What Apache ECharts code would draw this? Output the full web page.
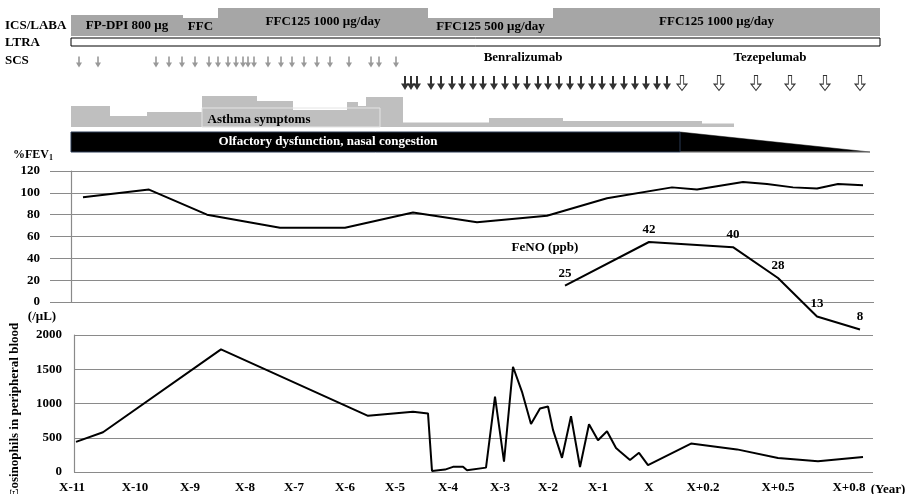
<!DOCTYPE html>
<html>
<head>
<meta charset="utf-8">
<script src="https://cdn.jsdelivr.net/npm/echarts@6/dist/echarts.min.js"></script>
<style>
  html, body { margin: 0; padding: 0; background: #fff; }
  #chart { width: 906px; height: 494px; }
</style>
</head>
<body>
<div id="chart"></div>
<script>
// Timeline positions (arbitrary units along the follow-up axis, 0 = start of record)
const yearTickPos = [1, 64, 119, 174, 223, 274, 324, 377, 429, 477, 527, 578, 632, 707, 778];
const yearTickLabels = ['X-11', 'X-10', 'X-9', 'X-8', 'X-7', 'X-6', 'X-5', 'X-4', 'X-3', 'X-2', 'X-1', 'X', 'X+0.2', 'X+0.5', 'X+0.8'];

// ICS/LABA regimen periods and dose level
const icsStart = [0, 112, 147, 357, 482];
const icsEnd = [112, 147, 357, 482, 809];
const icsLevel = [21, 18, 28, 18, 28];
const icsText = ['FP-DPI 800 \u03bcg', 'FFC', 'FFC125 1000 \u03bcg/day', 'FFC125 500 \u03bcg/day', 'FFC125 1000 \u03bcg/day'];

// LTRA continuous use
const ltraStart = [0];
const ltraEnd = [809];

// Systemic corticosteroid bursts
const scsTimes = [8, 27, 85, 98, 111, 124, 138, 147, 157, 165, 172, 177, 183, 197, 210, 221, 233, 246, 259, 278, 300, 308, 325];

// Biologic injections
const benraTimes = [334, 340, 346, 360, 370, 381, 391, 402, 412, 423, 434, 445, 456, 467, 477, 488, 499, 510, 521, 531, 542, 553, 564, 575, 586, 596];
const tezeTimes = [611, 648, 685, 719, 754, 789];

// Asthma symptom intensity by period
const symStart = [0, 39, 76, 131, 186, 222, 276, 287, 295, 332, 418, 492, 631];
const symEnd = [39, 76, 131, 186, 222, 276, 287, 295, 332, 418, 492, 631, 663];
const symLevel = [21, 11, 15, 31, 26, 17, 25, 21, 30, 4.5, 9, 6, 3.5];

// Olfactory dysfunction: persistent until olfFullEnd, then tapering off
const olfStart = 0;
const olfFullEnd = 609;
const olfTaperEnd = 799;

// %FEV1
const fevTimes = [12, 78, 136, 209, 274, 342, 406, 476, 536, 601, 626, 672, 696, 722, 746, 767, 792];
const fevValues = [96, 103, 80, 68, 68, 82, 73, 79, 95, 105, 103, 110, 108, 105, 104, 108, 107];

// FeNO (ppb)
const fenoTimes = [494, 578, 662, 707, 746, 789];
const fenoValues = [25, 42, 40, 28, 13, 8];

// Eosinophils in peripheral blood (/μL)
const eosTimes = [5, 32, 150, 297, 342, 357, 361, 374, 382, 392, 396, 415, 424, 433, 442, 451, 460, 469, 477, 482, 491, 500, 509, 518, 527, 536, 545, 549, 559, 568, 577, 620, 666, 707, 747, 792];
const eosValues = [440, 580, 1790, 820, 880, 855, 15, 35, 75, 75, 25, 64, 1100, 150, 1536, 1170, 700, 928, 955, 615, 207, 815, 73, 698, 464, 595, 350, 300, 176, 280, 100, 415, 330, 205, 157, 219];

// ---- layout ----
const TL_LEFT = 71, TL_RIGHT = 880, TL_MAX = 809;
const pxPerUnit = (TL_RIGHT - TL_LEFT) / TL_MAX;
const FONT_FAMILY = '"Liberation Serif", "Times New Roman", serif';
const boldFont = (size) => 'bold ' + size + 'px ' + FONT_FAMILY;

function band(top, height, left, right) {
  left = left == null ? TL_LEFT : left;
  right = right == null ? TL_RIGHT : right;
  return { left: left, top: top, width: right - left, height: height };
}
function timeAxis(gridIndex, left, right, extra) {
  left = left == null ? TL_LEFT : left;
  right = right == null ? TL_RIGHT : right;
  return Object.assign({
    type: 'value', gridIndex: gridIndex,
    min: (left - TL_LEFT) / pxPerUnit, max: (right - TL_LEFT) / pxPerUnit,
    show: false, splitLine: { show: false }
  }, extra || {});
}
function hiddenY(gridIndex, min, max) {
  return { type: 'value', gridIndex: gridIndex, min: min, max: max, show: false, splitLine: { show: false } };
}

const FEV_LEFT = 50, FEV_RIGHT = 874;
const EOS_LEFT = 74, EOS_RIGHT = 873;

const grids = [
  band(0, 36),            // 0 ICS/LABA
  band(38, 8),            // 1 LTRA
  band(52, 20),           // 2 SCS
  band(74, 18),           // 3 biologics
  band(90, 37),           // 4 asthma symptoms
  band(132, 20),          // 5 olfactory
  band(171, 131, FEV_LEFT, FEV_RIGHT),  // 6 FEV1
  band(170, 180, FEV_LEFT, FEV_RIGHT),  // 7 FeNO
  band(335, 137, EOS_LEFT, EOS_RIGHT),  // 8 eosinophils
  band(335, 137, FEV_LEFT, TL_RIGHT)    // 9 year labels
];

const gridLine = { show: true, lineStyle: { color: '#8a8a8a', width: 1.2 } };
const axisLabelStyle = { color: '#000', fontFamily: FONT_FAMILY, fontWeight: 'bold', fontSize: 13 };

const xAxes = [
  timeAxis(0), timeAxis(1), timeAxis(2), timeAxis(3), timeAxis(4), timeAxis(5),
  timeAxis(6, FEV_LEFT, FEV_RIGHT), timeAxis(7, FEV_LEFT, FEV_RIGHT),
  timeAxis(8, EOS_LEFT, EOS_RIGHT),
  timeAxis(9, FEV_LEFT, TL_RIGHT, {
    show: true,
    axisLine: { show: false },
    axisTick: { show: false },
    axisLabel: Object.assign({
      margin: 13,
      customValues: yearTickPos,
      formatter: function (v) {
        let best = 0;
        for (let i = 1; i < yearTickPos.length; i++) {
          if (Math.abs(yearTickPos[i] - v) < Math.abs(yearTickPos[best] - v)) best = i;
        }
        return yearTickLabels[best];
      }
    }, axisLabelStyle)
  })
];

const yAxes = [
  hiddenY(0, 0, 36), hiddenY(1, 0, 1), hiddenY(2, 0, 1), hiddenY(3, 0, 1),
  hiddenY(4, 0, 37), hiddenY(5, 0, 1),
  {
    type: 'value', gridIndex: 6, min: 0, max: 120, interval: 20,
    axisLine: { show: true, lineStyle: { color: '#8a8a8a', width: 1.2 } },
    axisTick: { show: false },
    axisLabel: Object.assign({ margin: 10, formatter: v => String(v) }, axisLabelStyle),
    splitLine: gridLine
  },
  hiddenY(7, 0, 70),
  {
    type: 'value', gridIndex: 8, min: 0, max: 2000, interval: 500,
    axisLine: { show: true, lineStyle: { color: '#8a8a8a', width: 1.2 } },
    axisTick: { show: false },
    axisLabel: Object.assign({ margin: 12, formatter: v => String(v) }, axisLabelStyle),
    splitLine: gridLine
  },
  hiddenY(9, 0, 1)
];

function periodRects(starts, ends, levels, fill, texts) {
  return function (params, api) {
    const i = params.dataIndex;
    const p0 = api.coord([starts[i], levels ? levels[i] : 1]);
    const p1 = api.coord([ends[i], 0]);
    const el = {
      type: 'rect',
      shape: { x: p0[0], y: p0[1], width: p1[0] - p0[0], height: p1[1] - p0[1] },
      style: { fill: fill.fill, stroke: fill.stroke || null, lineWidth: fill.lineWidth || 0 }
    };
    if (texts) {
      el.textContent = { style: { text: texts[i], font: boldFont(13), fill: '#000' } };
      el.textConfig = { position: 'inside' };
    }
    return el;
  };
}

const downArrow = 'path://M2.2,0 L3.8,0 L3.8,6 L6,6 L3,11 L0,6 L2.2,6 Z';
const boldArrow = 'path://M3,0 L5,0 L5,7 L8,7 L4,13 L0,7 L3,7 Z';
const hollowArrow = 'path://M3,0 L6,0 L6,8 L9,8 L4.5,14 L0,8 L3,8 Z';

const series = [
  {
    type: 'custom', xAxisIndex: 0, yAxisIndex: 0, clip: false,
    renderItem: periodRects(icsStart, icsEnd, icsLevel, { fill: '#a6a6a6' }, icsText),
    data: icsStart.map((s, i) => [s, icsEnd[i], icsLevel[i]]),
    encode: { x: [0, 1], y: 2 }
  },
  {
    type: 'custom', xAxisIndex: 1, yAxisIndex: 1, clip: false,
    renderItem: periodRects(ltraStart, ltraEnd, null, { fill: '#fff', stroke: '#000', lineWidth: 1 }),
    data: ltraStart.map((s, i) => [s, ltraEnd[i]]),
    encode: { x: [0, 1] }
  },
  {
    type: 'scatter', xAxisIndex: 2, yAxisIndex: 2,
    symbol: downArrow, symbolSize: [6, 11],
    itemStyle: { color: '#7f7f7f' },
    data: scsTimes.map(t => [t, 0.5])
  },
  {
    type: 'scatter', xAxisIndex: 3, yAxisIndex: 3,
    symbol: boldArrow, symbolSize: [8, 14],
    itemStyle: { color: '#000' },
    data: benraTimes.map(t => [t, 0.5])
  },
  {
    type: 'scatter', xAxisIndex: 3, yAxisIndex: 3,
    symbol: hollowArrow, symbolSize: [10, 15],
    itemStyle: { color: '#fff', borderColor: '#000', borderWidth: 1 },
    data: tezeTimes.map(t => [t, 0.5])
  },
  {
    type: 'custom', xAxisIndex: 4, yAxisIndex: 4, clip: false,
    renderItem: periodRects(symStart, symEnd, symLevel, { fill: '#bfbfbf' }),
    data: symStart.map((s, i) => [s, symEnd[i], symLevel[i]]),
    encode: { x: [0, 1], y: 2 }
  },
  {
    type: 'custom', xAxisIndex: 5, yAxisIndex: 5, clip: false,
    renderItem: function (params, api) {
      const a = api.coord([olfStart, 1]);
      const b = api.coord([olfFullEnd, 0]);
      const c = api.coord([olfTaperEnd, 0]);
      return {
        type: 'group',
        children: [
          { type: 'polygon', shape: { points: [[b[0], a[1]], [c[0], c[1]], [b[0], b[1]]] },
            style: { fill: '#000', stroke: '#000', lineWidth: 0.5 } },
          { type: 'line', shape: { x1: b[0], y1: b[1], x2: c[0], y2: c[1] },
            style: { stroke: '#9a9a9a', lineWidth: 1 } },
          { type: 'rect', shape: { x: a[0], y: a[1], width: b[0] - a[0], height: b[1] - a[1] },
            style: { fill: '#000', stroke: '#2a3a55', lineWidth: 1 } }
        ]
      };
    },
    data: [[olfStart, olfTaperEnd]],
    encode: { x: [0, 1] }
  },
  {
    type: 'line', xAxisIndex: 6, yAxisIndex: 6,
    symbol: 'none', lineStyle: { color: '#000', width: 2 },
    data: fevTimes.map((t, i) => [t, fevValues[i]])
  },
  {
    type: 'line', xAxisIndex: 7, yAxisIndex: 7,
    symbol: 'circle', symbolSize: 0, showSymbol: true,
    itemStyle: { color: '#000' },
    lineStyle: { color: '#000', width: 2 },
    label: {
      show: true, position: 'top', distance: 6,
      color: '#000', fontFamily: FONT_FAMILY, fontWeight: 'bold', fontSize: 13,
      formatter: p => String(p.value[1])
    },
    data: fenoTimes.map((t, i) => [t, fenoValues[i]])
  },
  {
    type: 'line', xAxisIndex: 8, yAxisIndex: 8,
    symbol: 'none', lineStyle: { color: '#000', width: 2 },
    data: eosTimes.map((t, i) => [t, eosValues[i]])
  }
];

function txt(text, x, y, opts) {
  opts = opts || {};
  const align = opts.align || 'center';
  return {
    type: 'text', x: x, y: y, z: 20, rotation: opts.rotation || 0,
    style: {
      text: text, font: boldFont(opts.size || 13), fill: opts.fill || '#000',
      align: align, verticalAlign: 'middle', textAlign: align, textVerticalAlign: 'middle'
    }
  };
}

const graphic = [
  txt('ICS/LABA', 5, 26, { align: 'left' }),
  txt('LTRA', 5, 43, { align: 'left' }),
  txt('SCS', 5, 61, { align: 'left' }),
  txt('Benralizumab', 523, 58),
  txt('Tezepelumab', 770, 58),
  {
    type: 'rect', z: 15,
    shape: { x: 202, y: 108, width: 178, height: 19 },
    style: { fill: null, stroke: '#e4e4e4', lineWidth: 1 }
  },
  txt('Asthma symptoms', 259, 120),
  txt('Olfactory dysfunction, nasal congestion', 328, 142, { fill: '#fff' }),
  txt('%FEV', 13, 155, { align: 'left', size: 12 }),
  txt('1', 49, 158, { align: 'left', size: 8 }),
  txt('FeNO (ppb)', 545, 248),
  txt('(/\u03bcL)', 42, 317),
  txt('Eosinophils in peripheral blood', 15, 410, { rotation: Math.PI / 2 }),
  txt('(Year)', 888, 490)
];

const chart = echarts.init(document.getElementById('chart'), null, { renderer: 'canvas' });
chart.setOption({
  animation: false,
  backgroundColor: '#fff',
  grid: grids,
  xAxis: xAxes,
  yAxis: yAxes,
  series: series,
  graphic: graphic
});
</script>
</body>
</html>
